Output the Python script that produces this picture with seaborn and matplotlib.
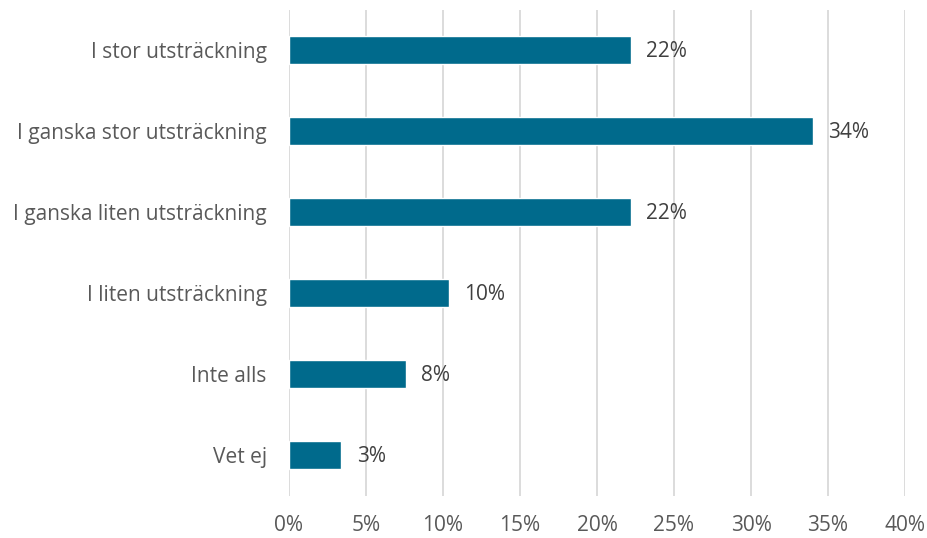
import matplotlib
matplotlib.use("Agg")
import matplotlib.pyplot as plt
import seaborn as sns
import pandas as pd

categories = ["I stor utsträckning", "I ganska stor utsträckning", "I ganska liten utsträckning",
              "I liten utsträckning", "Inte alls", "Vet ej"]
values = [22.2, 34.0, 22.2, 10.4, 7.6, 3.4]
labels = ["22%", "34%", "22%", "10%", "8%", "3%"]
xticks = [0, 5, 10, 15, 20, 25, 30, 35, 40]

sns.set_style("white")
plt.rcParams['font.family'] = ['Open Sans', 'DejaVu Sans']

df = pd.DataFrame({"cat": categories, "val": values})

fig = plt.figure(figsize=(9.28, 5.38), dpi=100)
ax = fig.add_axes([289/928, 1 - 495.5/538, (905 - 289)/928, 486/538])
sns.barplot(data=df, x="val", y="cat", orient="h", color="#006a8c", saturation=1,
            width=0.35, ax=ax, zorder=3)

ax.set_xlim(0, 40)
ax.set_ylim(5.5, -0.5)
ax.set_xticks(xticks)
ax.set_xticklabels([f"{t}%" for t in xticks])
ax.xaxis.grid(True, color="#d9d9d9", linewidth=1.3, zorder=0)
ax.set_axisbelow(True)
for s in ax.spines.values():
    s.set_visible(False)
ax.set_xlabel("")
ax.set_ylabel("")
ax.tick_params(axis="x", length=0, pad=14, labelsize=15, labelcolor="#595959")
ax.tick_params(axis="y", length=0, pad=16, labelsize=15, labelcolor="#595959")

for i, (v, lab) in enumerate(zip(values, labels)):
    ax.text(v + 1.0, i + 0.02, lab, va="center", ha="left", fontsize=15, color="#404040")

fig.savefig("out.png", dpi=100)
